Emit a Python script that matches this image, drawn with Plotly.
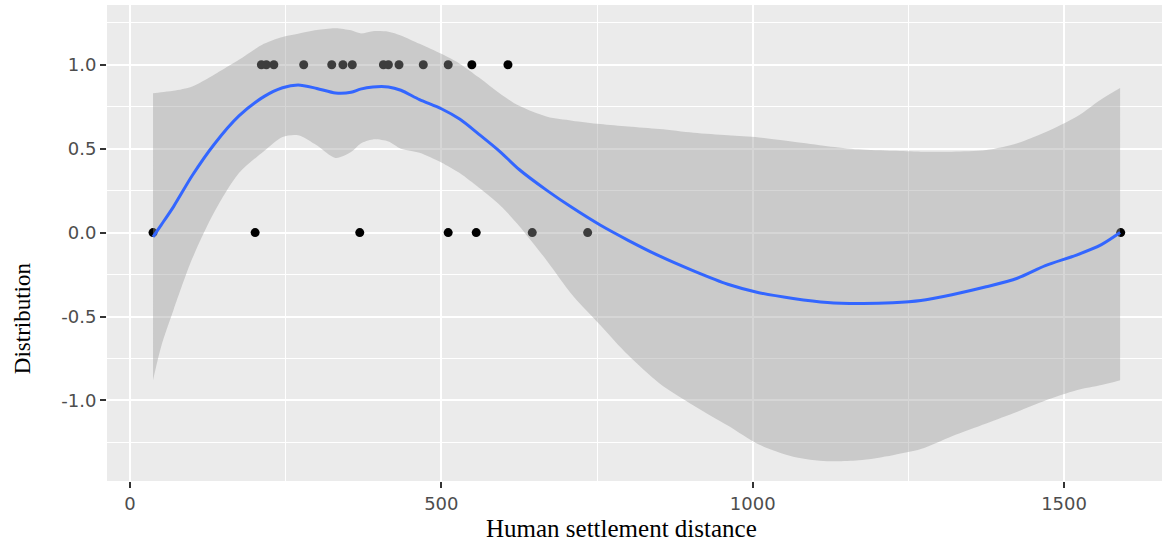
import plotly.graph_objects as go

# Observed presence/absence against distance to the nearest human settlement
present_x = [211, 219, 231, 279, 324, 342, 357, 407, 415, 432, 471, 511, 549, 607]
absent_x = [37, 201, 369, 511, 556, 646, 735, 1591]

# LOESS fit and its 95% confidence band, sampled along the distance axis
fit_x = [37, 50, 70, 100, 135, 175, 215, 245, 270, 300, 330, 355, 370, 390, 415,
         435, 465, 500, 530, 560, 595, 625, 670, 710, 755, 800, 850, 905, 960,
         1010, 1065, 1120, 1170, 1225, 1270, 1320, 1375, 1425, 1470, 1520, 1560, 1590]
fit_y = [-0.025, 0.045, 0.155, 0.34, 0.525, 0.695, 0.81, 0.863, 0.879, 0.859, 0.832,
         0.836, 0.855, 0.868, 0.868, 0.848, 0.792, 0.738, 0.675, 0.587, 0.48, 0.376,
         0.25, 0.149, 0.045, -0.046, -0.139, -0.228, -0.308, -0.358, -0.392, -0.416,
         -0.422, -0.418, -0.405, -0.37, -0.323, -0.272, -0.197, -0.134, -0.072, 0.0]
upper_y = [0.83, 0.836, 0.845, 0.871, 0.941, 1.03, 1.125, 1.166, 1.185, 1.207, 1.218,
           1.205, 1.187, 1.2, 1.197, 1.175, 1.125, 1.065, 1.005, 0.925, 0.825, 0.755,
           0.69, 0.667, 0.647, 0.632, 0.617, 0.595, 0.58, 0.567, 0.541, 0.515, 0.496,
           0.487, 0.482, 0.482, 0.492, 0.533, 0.598, 0.69, 0.795, 0.862]
lower_y = [-0.879, -0.68, -0.46, -0.155, 0.12, 0.355, 0.485, 0.57, 0.58, 0.52, 0.445,
           0.48, 0.53, 0.555, 0.543, 0.50, 0.476, 0.418, 0.353, 0.268, 0.16, 0.04,
           -0.17, -0.37, -0.55, -0.73, -0.897, -1.03, -1.15, -1.263, -1.335, -1.362,
           -1.357, -1.326, -1.29, -1.213, -1.137, -1.067, -1.0, -0.939, -0.908, -0.879]

x_ticks = [0, 500, 1000, 1500]
x_tick_labels = ["0", "500", "1000", "1500"]
x_minor = [250, 750, 1250]
y_ticks = [-1.0, -0.5, 0.0, 0.5, 1.0]
y_tick_labels = ["-1.0", "-0.5", "0.0", "0.5", "1.0"]
y_minor = [-1.25, -0.75, -0.25, 0.25, 0.75, 1.25]

fig = go.Figure()

# raw observations (drawn first so the band tints the ones it covers)
fig.add_trace(go.Scatter(
    x=present_x + absent_x,
    y=[1] * len(present_x) + [0] * len(absent_x),
    mode="markers",
    marker=dict(color="black", size=9, line=dict(width=0)),
    showlegend=False, hoverinfo="x+y",
))

# confidence band: lower edge, then upper edge filled down to it
fig.add_trace(go.Scatter(
    x=fit_x, y=lower_y,
    mode="lines",
    line=dict(width=0, shape="spline", smoothing=0.8),
    showlegend=False, hoverinfo="skip",
))
fig.add_trace(go.Scatter(
    x=fit_x, y=upper_y,
    mode="lines",
    fill="tonexty",
    fillcolor="rgba(153,153,153,0.4)",
    line=dict(width=0, shape="spline", smoothing=0.8),
    showlegend=False, hoverinfo="skip",
))

# smoothed trend
fig.add_trace(go.Scatter(
    x=fit_x, y=fit_y,
    mode="lines",
    line=dict(color="#3366FF", width=3, shape="spline", smoothing=0.8),
    showlegend=False,
))

axis_common = dict(
    showgrid=True, gridcolor="white", gridwidth=2,
    zeroline=False, showline=False,
    ticks="outside", ticklen=6, tickwidth=1.5, tickcolor="#333333",
    tickfont=dict(family="DejaVu Sans", size=18, color="#4D4D4D"),
    tickmode="array",
)

fig.update_xaxes(
    **axis_common,
    range=[-36.9, 1657.3],
    tickvals=x_ticks, ticktext=x_tick_labels,
    minor=dict(tickvals=x_minor, showgrid=True, gridcolor="white", gridwidth=1, ticklen=0),
)
fig.update_yaxes(
    **axis_common,
    range=[-1.48, 1.356],
    tickvals=y_ticks, ticktext=y_tick_labels,
    minor=dict(tickvals=y_minor, showgrid=True, gridcolor="white", gridwidth=1, ticklen=0),
)

fig.update_layout(
    width=1162, height=542,
    margin=dict(l=107, r=0, t=5, b=61),
    plot_bgcolor="#EBEBEB", paper_bgcolor="white",
    showlegend=False,
    annotations=[
        dict(text="Human settlement distance", xref="paper", yref="paper",
             x=0.488, y=-0.099, xanchor="center", yanchor="middle", showarrow=False,
             font=dict(family="Liberation Serif", size=25, color="black")),
        dict(text="Distribution", xref="paper", yref="paper",
             x=-0.0806, y=0.342, xanchor="center", yanchor="middle", showarrow=False,
             textangle=-90,
             font=dict(family="Liberation Serif", size=23, color="black")),
    ],
)

fig.write_html("out.html")
